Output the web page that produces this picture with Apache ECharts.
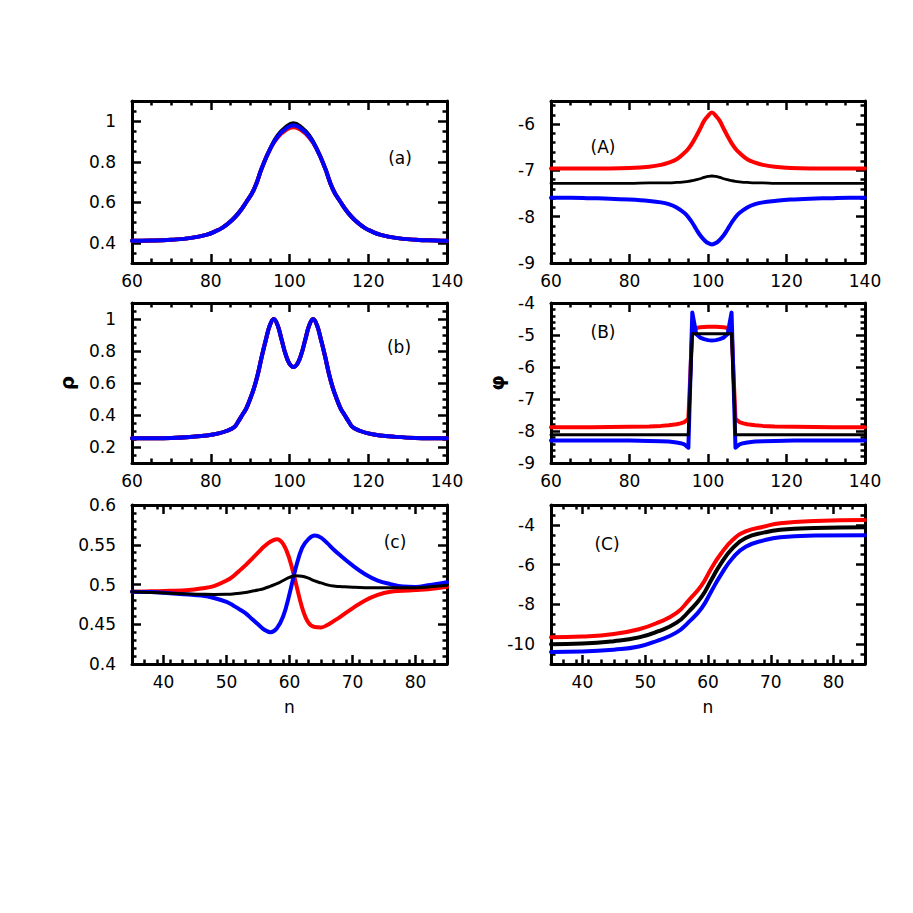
<!DOCTYPE html>
<html><head><meta charset="utf-8">
<script src="https://cdn.jsdelivr.net/npm/echarts@6/dist/echarts.min.js"></script>
<style>html,body{margin:0;padding:0;background:#fff}#c{width:913px;height:913px}</style>
</head><body><div id="c"></div>
<script>
// ---------------- data ----------------
// Panel (a): rho vs n
const aN     = [60,65,70,75,79,81,83,85,87,89,91,93,95,97,99,101,103,105,107,109,111,113,115,117,119,121,123,127,132,137,140];
const aBlack = [0.41,0.411,0.415,0.424,0.44,0.455,0.475,0.505,0.545,0.60,0.665,0.77,0.86,0.93,0.97,0.99,0.97,0.93,0.86,0.77,0.665,0.60,0.545,0.505,0.475,0.455,0.44,0.424,0.415,0.411,0.41];
const aRed   = [0.41,0.411,0.415,0.424,0.44,0.455,0.475,0.505,0.545,0.60,0.665,0.77,0.86,0.92,0.955,0.97,0.955,0.92,0.86,0.77,0.665,0.60,0.545,0.505,0.475,0.455,0.44,0.424,0.415,0.411,0.41];
const aBlue  = [0.41,0.411,0.415,0.424,0.44,0.455,0.475,0.505,0.545,0.60,0.665,0.77,0.86,0.925,0.962,0.98,0.962,0.925,0.86,0.77,0.665,0.60,0.545,0.505,0.475,0.455,0.44,0.424,0.415,0.411,0.41];

// Panel (A): phi vs n
const AN     = [60,65,70,75,80,85,88,90,92,94,95,96,97,98,99,100,101,102,103,104,105,106,107,108,110,112,114,117,121,126,131,136,140];
const ARed   = [-6.96,-6.96,-6.96,-6.96,-6.95,-6.92,-6.88,-6.83,-6.76,-6.62,-6.53,-6.41,-6.26,-6.10,-5.93,-5.82,-5.75,-5.82,-5.93,-6.10,-6.26,-6.41,-6.53,-6.62,-6.76,-6.83,-6.88,-6.92,-6.95,-6.96,-6.96,-6.96,-6.96];
const ABlack = [-7.28,-7.28,-7.28,-7.28,-7.28,-7.27,-7.27,-7.27,-7.26,-7.245,-7.235,-7.22,-7.20,-7.18,-7.15,-7.13,-7.12,-7.13,-7.15,-7.18,-7.20,-7.22,-7.235,-7.245,-7.26,-7.27,-7.27,-7.28,-7.28,-7.28,-7.28,-7.28,-7.28];
const ABlue  = [-7.59,-7.59,-7.60,-7.61,-7.63,-7.66,-7.69,-7.73,-7.80,-7.92,-8.01,-8.13,-8.27,-8.40,-8.50,-8.57,-8.60,-8.57,-8.50,-8.40,-8.27,-8.13,-8.01,-7.92,-7.80,-7.73,-7.69,-7.66,-7.63,-7.61,-7.60,-7.59,-7.59];

// Panel (b): rho vs n
const bN     = [60,70,76,79,82,84,86,87,88,89,90,91,92,93,94,95,96,97,98,99,100,101,102,103,104,105,106,107,108,109,110,111,112,113,114,115,116,118,120,123,126,132,140];
const bRho   = [0.255,0.257,0.265,0.272,0.285,0.30,0.325,0.36,0.40,0.44,0.50,0.57,0.66,0.77,0.87,0.96,1.0,0.96,0.87,0.78,0.72,0.70,0.72,0.78,0.87,0.96,1.0,0.96,0.87,0.77,0.66,0.57,0.50,0.44,0.40,0.36,0.325,0.30,0.285,0.272,0.265,0.257,0.255];

// Panel (B): phi vs n
const BN     = [60,70,80,85,88,90,92,93,94,95,96,97,98,99,100,101,102,103,104,105,106,107,108,109,110,112,114,117,122,132,140];
const BRed   = [-7.88,-7.88,-7.87,-7.86,-7.84,-7.82,-7.79,-7.76,-7.72,-7.62,-4.82,-4.78,-4.76,-4.75,-4.74,-4.74,-4.74,-4.75,-4.76,-4.78,-4.82,-7.62,-7.72,-7.76,-7.79,-7.82,-7.84,-7.86,-7.87,-7.88,-7.88];
const BBlack = [-8.12,-8.12,-8.12,-8.12,-8.12,-8.12,-8.12,-8.12,-8.12,-8.12,-4.96,-4.96,-4.96,-4.96,-4.96,-4.96,-4.96,-4.96,-4.96,-4.96,-4.96,-8.12,-8.12,-8.12,-8.12,-8.12,-8.12,-8.12,-8.12,-8.12,-8.12];
const BBlue  = [-8.30,-8.30,-8.30,-8.31,-8.32,-8.33,-8.36,-8.38,-8.42,-8.52,-4.30,-4.97,-5.08,-5.13,-5.16,-5.17,-5.16,-5.13,-5.08,-4.97,-4.30,-8.52,-8.42,-8.38,-8.36,-8.33,-8.32,-8.31,-8.30,-8.30,-8.30];

// Panel (c): rho vs n
const cN     = [35,38,41,44,46,48,50,51,52,53,54,55,56,57,58,59,60,61,62,63,64,65,66,67,68,70,72,74,76,78,80,82,85];
const cRed   = [0.491,0.4915,0.492,0.493,0.495,0.498,0.505,0.510,0.517,0.524,0.532,0.540,0.548,0.554,0.557,0.551,0.532,0.502,0.471,0.452,0.4465,0.446,0.449,0.454,0.459,0.470,0.480,0.487,0.491,0.492,0.493,0.494,0.497];
const cBlack = [0.491,0.490,0.489,0.488,0.4877,0.4875,0.4877,0.488,0.489,0.490,0.4915,0.493,0.495,0.498,0.501,0.505,0.509,0.511,0.5105,0.508,0.5045,0.502,0.4995,0.498,0.4975,0.4965,0.496,0.496,0.496,0.496,0.496,0.497,0.499];
const cBlue  = [0.491,0.4905,0.489,0.4875,0.486,0.483,0.478,0.474,0.469,0.464,0.457,0.450,0.443,0.440,0.445,0.460,0.488,0.521,0.546,0.557,0.5615,0.559,0.552,0.544,0.537,0.524,0.513,0.505,0.5005,0.4975,0.497,0.499,0.503];

// Panel (C): phi vs n
const CN     = [35,40,45,49,52,55,57,59,60.5,62,64,66,69,71.5,77,85];
const CRed   = [-9.66,-9.62,-9.49,-9.25,-8.92,-8.43,-7.77,-7.03,-6.21,-5.48,-4.74,-4.33,-4.08,-3.92,-3.80,-3.75];
const CBlack = [-10.0,-9.97,-9.85,-9.66,-9.36,-8.92,-8.34,-7.61,-6.79,-5.97,-5.15,-4.66,-4.38,-4.25,-4.16,-4.12];
const CBlue  = [-10.39,-10.37,-10.28,-10.12,-9.82,-9.41,-8.87,-8.18,-7.36,-6.54,-5.64,-5.10,-4.77,-4.62,-4.54,-4.52];

// tick labels
const xTicksUpper = [60,80,100,120,140];
const xTicksLower = [40,50,60,70,80];
const aYTicks = [0.4,0.6,0.8,1];
const AYTicks = [-9,-8,-7,-6];
const bYTicks = [0.2,0.4,0.6,0.8,1];
const BYTicks = [-9,-8,-7,-6,-5,-4];
const cYTicks = [0.4,0.45,0.5,0.55,0.6];
const CYTicks = [-10,-8,-6,-4];
const panelLabels = ['(a)','(A)','(b)','(B)','(c)','(C)'];

// ---------------- build ----------------
const FONT = 'DejaVu Sans';
const LBL = {fontFamily: FONT, fontSize: 17, color: '#000'};
const grids = [
  {left:132, top:101, width:315, height:162},
  {left:551, top:101, width:314, height:162},
  {left:132, top:303, width:315, height:160},
  {left:551, top:303, width:314, height:160},
  {left:132, top:505, width:315, height:159},
  {left:551, top:505, width:314, height:159}
];
function minorVals(min, max, step, majors) {
  const out = [];
  const n = Math.round((max - min) / step);
  for (let i = 0; i <= n; i++) {
    const v = +(min + i * step).toFixed(6);
    if (v <= min + 1e-9 || v >= max - 1e-9) continue;
    if (majors.some(m => Math.abs(m - v) < 1e-6)) continue;
    out.push(v);
  }
  return out;
}
const xAxes = [], yAxes = [];
function ax(gi, pos, min, max, vals, major, showLabel, extra) {
  return Object.assign({
    type: 'value', gridIndex: gi, position: pos, min: min, max: max,
    axisLine: {show: major, onZero: false, lineStyle: {color: '#000', width: 3}},
    axisTick: {show: true, inside: true, length: major ? 9 : 4.5, customValues: vals,
               lineStyle: {color: '#000', width: 2.5}},
    axisLabel: showLabel ? Object.assign({show: true, customValues: vals, margin: pos === 'bottom' ? 9 : 16}, LBL) : {show: false},
    splitLine: {show: false}, minorTick: {show: false}
  }, extra || {});
}
function addAxes(gi, xr, yr, xExtra, yExtra) {
  const xMin = minorVals(xr.min, xr.max, xr.step, xr.ticks);
  const yMin = minorVals(yr.min, yr.max, yr.step, yr.ticks);
  const xi = xAxes.length;
  xAxes.push(ax(gi, 'bottom', xr.min, xr.max, xr.ticks, true, true, xExtra));
  xAxes.push(ax(gi, 'bottom', xr.min, xr.max, xMin, false, false));
  xAxes.push(ax(gi, 'top', xr.min, xr.max, xr.ticks, true, false));
  xAxes.push(ax(gi, 'top', xr.min, xr.max, xMin, false, false));
  const yi = yAxes.length;
  yAxes.push(ax(gi, 'left', yr.min, yr.max, yr.ticks, true, true, yExtra));
  yAxes.push(ax(gi, 'left', yr.min, yr.max, yMin, false, false));
  yAxes.push(ax(gi, 'right', yr.min, yr.max, yr.ticks, true, false));
  yAxes.push(ax(gi, 'right', yr.min, yr.max, yMin, false, false));
  return {xi, yi};
}
const xUp = {min: 60, max: 140, step: 5, ticks: xTicksUpper};
const xLo = {min: 35, max: 85, step: 2, ticks: xTicksLower};
const nameN = {name: 'n', nameLocation: 'middle', nameGap: 34, nameTextStyle: {fontFamily: FONT, fontSize: 17, color: '#000'}};
const ia = addAxes(0, xUp, {min: 0.3, max: 1.1, step: 0.05, ticks: aYTicks});
const iA = addAxes(1, xUp, {min: -9, max: -5.5, step: 0.2, ticks: AYTicks});
const ib = addAxes(2, xUp, {min: 0.1, max: 1.1, step: 0.05, ticks: bYTicks}, null,
  {name: 'ρ', nameLocation: 'middle', nameGap: 55, nameTextStyle: {fontFamily: FONT, fontSize: 20, fontWeight: 'bold', color: '#000'}});
const iB = addAxes(3, xUp, {min: -9, max: -4, step: 0.2, ticks: BYTicks}, null,
  {name: 'φ', nameLocation: 'middle', nameGap: 44, nameTextStyle: {fontFamily: FONT, fontSize: 20, fontWeight: 'bold', color: '#000'}});
const ic = addAxes(4, xLo, {min: 0.4, max: 0.6, step: 0.01, ticks: cYTicks}, nameN);
const iC = addAxes(5, xLo, {min: -11, max: -3, step: 0.5, ticks: CYTicks}, nameN);

function zip(xs, ys) { return xs.map((x, i) => [x, ys[i]]); }
function line(idx, xs, ys, color, width, smooth) {
  return {type: 'line', xAxisIndex: idx.xi, yAxisIndex: idx.yi, data: zip(xs, ys),
    showSymbol: false, symbol: 'none', smooth: smooth,
    lineStyle: {color: color, width: width, join: 'round', cap: 'round'}, itemStyle: {color: color}, clip: true};
}
const RED = '#ff0000', BLUE = '#0000ff', BLACK = '#000000';
const series = [
  line(ia, aN, aBlack, BLACK, 4, 0.5),
  line(ia, aN, aRed, RED, 4, 0.5),
  line(ia, aN, aBlue, BLUE, 4, 0.5),
  line(iA, AN, ARed, RED, 4, 0.4),
  line(iA, AN, ABlack, BLACK, 2.8, 0.4),
  line(iA, AN, ABlue, BLUE, 4, 0.4),
  line(ib, bN, bRho, BLACK, 4, 0.4),
  line(ib, bN, bRho, RED, 4, 0.4),
  line(ib, bN, bRho, BLUE, 4, 0.4),
  line(iB, BN, BRed, RED, 4, false),
  line(iB, BN, BBlue, BLUE, 4, false),
  line(iB, BN, BBlack, BLACK, 3, false),
  line(ic, cN, cRed, RED, 4, 0.4),
  line(ic, cN, cBlue, BLUE, 4, 0.4),
  line(ic, cN, cBlack, BLACK, 3, 0.4),
  line(iC, CN, CRed, RED, 4, 0.5),
  line(iC, CN, CBlack, BLACK, 4, 0.5),
  line(iC, CN, CBlue, BLUE, 4, 0.5)
];
const labelPos = [[400,158],[603,147],[399,347],[603,332],[395,542],[607,544]];
const graphic = panelLabels.map((t, i) => ({
  type: 'text', x: labelPos[i][0], y: labelPos[i][1], z: 100,
  style: {text: t, fill: '#000', font: '17px "' + FONT + '"', align: 'center', verticalAlign: 'middle'}
}));

const chart = echarts.init(document.getElementById('c'), null, {renderer: 'svg', width: 913, height: 913});
chart.setOption({
  animation: false,
  backgroundColor: '#fff',
  grid: grids.map(g => Object.assign({containLabel: false}, g)),
  xAxis: xAxes,
  yAxis: yAxes,
  series: series,
  graphic: graphic
});
</script></body></html>
